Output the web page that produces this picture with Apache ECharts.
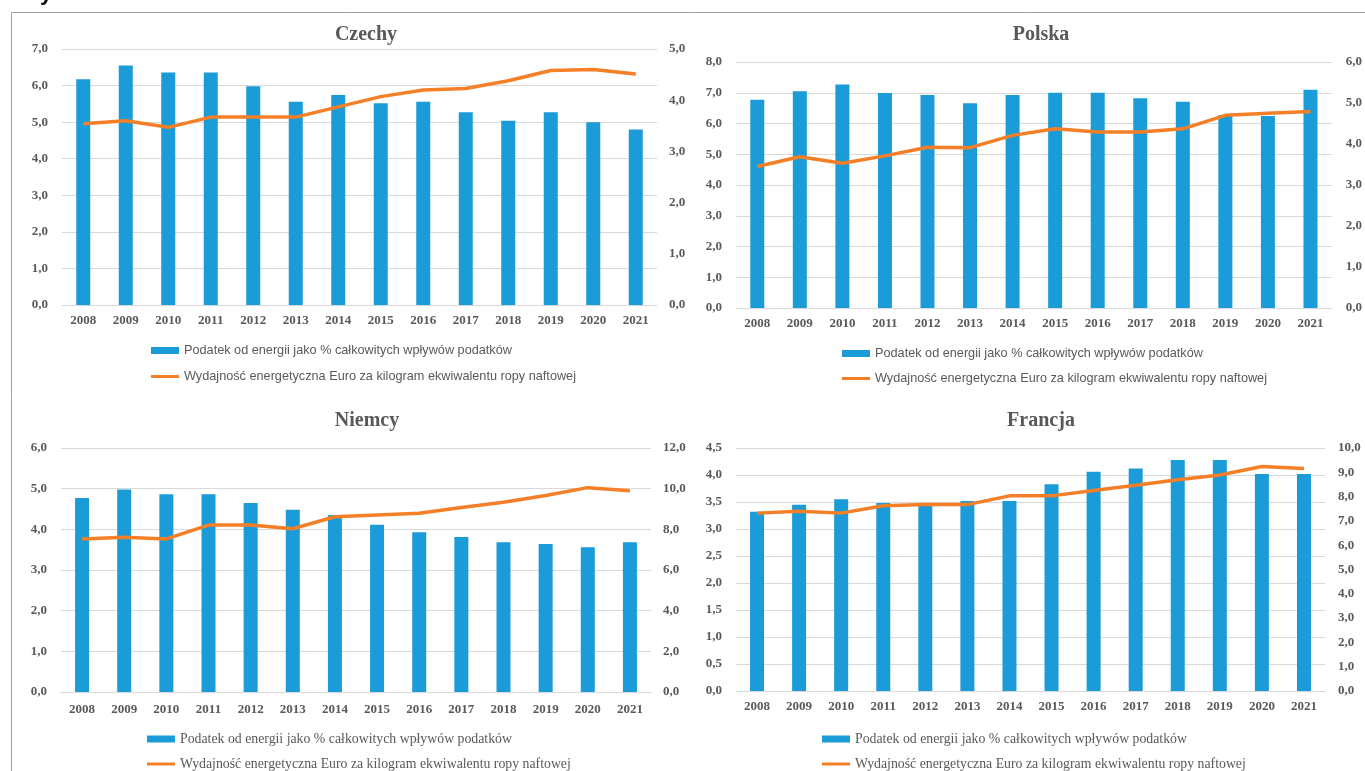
<!DOCTYPE html>
<html>
<head>
<meta charset="utf-8">
<script src="https://cdn.jsdelivr.net/npm/echarts@6/dist/echarts.min.js"></script>
<style>
  html, body { margin: 0; padding: 0; background: #fff; }
  #chart { width: 1365px; height: 771px; }
</style>
</head>
<body>
<div id="chart"></div>
<script>
// Years shown on every panel
const years = ['2008','2009','2010','2011','2012','2013','2014','2015','2016','2017','2018','2019','2020','2021'];

const barName = 'Podatek od energii jako % całkowitych wpływów podatków';
const lineName = 'Wydajność energetyczna Euro za kilogram ekwiwalentu ropy naftowej';

// Energy tax as % of total tax revenue (left axis)
const czTax = [6.17, 6.55, 6.36, 6.36, 5.98, 5.56, 5.74, 5.52, 5.56, 5.27, 5.04, 5.27, 5.00, 4.80];
const plTax = [6.77, 7.05, 7.27, 6.99, 6.93, 6.66, 6.93, 7.00, 7.00, 6.82, 6.71, 6.28, 6.24, 7.10];
const deTax = [4.77, 4.98, 4.86, 4.86, 4.65, 4.48, 4.35, 4.11, 3.93, 3.81, 3.68, 3.64, 3.56, 3.68];
const frTax = [3.32, 3.45, 3.55, 3.48, 3.43, 3.52, 3.52, 3.83, 4.06, 4.12, 4.28, 4.28, 4.02, 4.02];

// Energy productivity, euro per kg of oil equivalent (right axis)
const czProd = [3.54, 3.60, 3.47, 3.67, 3.67, 3.67, 3.87, 4.07, 4.20, 4.23, 4.38, 4.58, 4.60, 4.51];
const plProd = [3.45, 3.69, 3.53, 3.71, 3.92, 3.91, 4.21, 4.37, 4.29, 4.29, 4.37, 4.70, 4.75, 4.79];
const deProd = [7.53, 7.61, 7.53, 8.21, 8.21, 8.03, 8.62, 8.71, 8.79, 9.07, 9.33, 9.66, 10.05, 9.90];
const frProd = [7.32, 7.40, 7.32, 7.62, 7.67, 7.67, 8.03, 8.03, 8.25, 8.47, 8.69, 8.89, 9.24, 9.16];

// Axis ranges per panel: [min, max, interval]
const leftAxes  = [[0, 7, 1], [0, 8, 1], [0, 6, 1], [0, 4.5, 0.5]];
const rightAxes = [[0, 5, 1], [0, 6, 1], [0, 12, 2], [0, 10, 1]];

const titles = ['Czechy', 'Polska', 'Niemcy', 'Francja'];
const taxData = [czTax, plTax, deTax, frTax];
const prodData = [czProd, plProd, deProd, frProd];

const BLUE = '#1B9BD7';
const ORANGE = '#F57F27';
const GREY = '#595959';
const SERIF = '"Liberation Serif", "Times New Roman", serif';
const SANS = '"Liberation Sans", Arial, sans-serif';

// Panel geometry
const panels = [
  { left: 62,  width: 595, top: 49,  height: 256, titleX: 361,  titleY: 20,  xMargin: 9,  lMargin: 14, rMargin: 12,
    legX: 146, legY1: 350, legY2: 376, legFont: SANS, legSize: 12.7 },
  { left: 736, width: 597, top: 62,  height: 246, titleX: 1036, titleY: 20,  xMargin: 9,  lMargin: 14, rMargin: 14,
    legX: 837, legY1: 353, legY2: 378, legFont: SANS, legSize: 12.7 },
  { left: 61,  width: 590, top: 448, height: 244, titleX: 362,  titleY: 406, xMargin: 11, lMargin: 14, rMargin: 12,
    legX: 142, legY1: 738, legY2: 763, legFont: SERIF, legSize: 13.8 },
  { left: 736, width: 589, top: 448, height: 243, titleX: 1036, titleY: 406, xMargin: 9,  lMargin: 14, rMargin: 13,
    legX: 817, legY1: 738, legY2: 763, legFont: SERIF, legSize: 13.8 }
];

const fmt = v => v.toFixed(1).replace('.', ',');

const option = {
  animation: false,
  backgroundColor: '#fff',
  title: [], grid: [], xAxis: [], yAxis: [], series: [], legend: [],
  graphic: [
    { type: 'rect', shape: { x: 11.5, y: 12.5, width: 1400, height: 800 },
      style: { fill: 'none', stroke: '#A0A0A0', lineWidth: 1 }, silent: true },
    // heading text running off the top edge; only its descender shows
    { type: 'text', x: 40, y: 5, silent: true,
      style: { text: 'y', font: 'bold 22px "Liberation Sans", Arial, sans-serif', fill: '#000',
               verticalAlign: 'bottom' } }
  ]
};

panels.forEach((p, i) => {
  option.title.push({
    text: titles[i], left: p.titleX, top: p.titleY, textAlign: 'center',
    textStyle: { fontFamily: SERIF, fontWeight: 'bold', fontSize: 20, color: GREY }
  });
  option.grid.push({ left: p.left, top: p.top, width: p.width, height: p.height, containLabel: false });
  option.xAxis.push({
    type: 'category', gridIndex: i, data: years, z: 5,
    axisLine: { show: true, lineStyle: { color: '#D9D9D9', width: 1 } },
    axisTick: { show: false },
    axisLabel: { margin: p.xMargin, fontFamily: SERIF, fontWeight: 'bold', fontSize: 13, color: GREY, interval: 0 }
  });
  const la = leftAxes[i], ra = rightAxes[i];
  option.yAxis.push({
    type: 'value', gridIndex: i, position: 'left', min: la[0], max: la[1], interval: la[2],
    axisLine: { show: false }, axisTick: { show: false },
    splitLine: { show: true, lineStyle: { color: '#D9D9D9', width: 1 } },
    axisLabel: { margin: p.lMargin, fontFamily: SERIF, fontWeight: 'bold', fontSize: 13, color: GREY, formatter: fmt }
  });
  option.yAxis.push({
    type: 'value', gridIndex: i, position: 'right', min: ra[0], max: ra[1], interval: ra[2],
    axisLine: { show: false }, axisTick: { show: false }, splitLine: { show: false },
    axisLabel: { margin: p.rMargin, fontFamily: SERIF, fontWeight: 'bold', fontSize: 13, color: GREY, formatter: fmt }
  });
  option.series.push({
    name: barName, type: 'bar', xAxisIndex: i, yAxisIndex: 2 * i, data: taxData[i],
    barWidth: 14, itemStyle: { color: BLUE }
  });
  option.series.push({
    name: lineName, type: 'line', xAxisIndex: i, yAxisIndex: 2 * i + 1, data: prodData[i],
    symbol: 'none', lineStyle: { color: ORANGE, width: 3.5 }, itemStyle: { color: ORANGE }, z: 3
  });
  option.legend.push({
    data: [{ name: barName, icon: 'rect' }], left: p.legX, top: p.legY1 - 11,
    itemWidth: 28, itemHeight: 7, selectedMode: false,
    textStyle: { fontFamily: p.legFont, fontSize: p.legSize, color: GREY }
  });
  option.legend.push({
    data: [{ name: lineName, icon: 'rect' }], left: p.legX, top: p.legY2 - 11,
    itemWidth: 28, itemHeight: 3, selectedMode: false,
    textStyle: { fontFamily: p.legFont, fontSize: p.legSize, color: GREY }
  });
});

const chart = echarts.init(document.getElementById('chart'), null, { renderer: 'canvas' });
chart.setOption(option);
</script>
</body>
</html>
